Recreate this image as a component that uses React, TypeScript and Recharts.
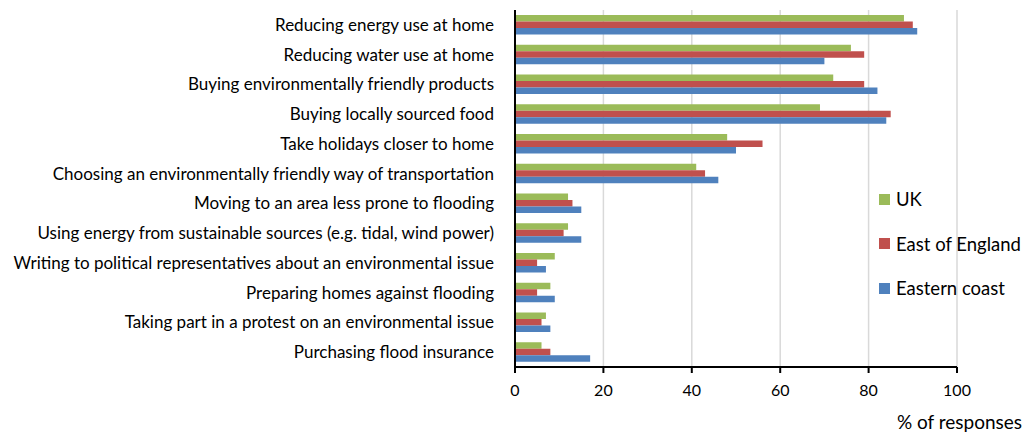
import { BarChart, Bar, XAxis, YAxis, CartesianGrid } from "recharts";

const CATEGORIES = [
  "Reducing energy use at home",
  "Reducing water use at home",
  "Buying environmentally friendly products",
  "Buying locally sourced food",
  "Take holidays closer to home",
  "Choosing an environmentally friendly way of transportation",
  "Moving to an area less prone to flooding",
  "Using energy from sustainable sources (e.g. tidal, wind power)",
  "Writing to political representatives about an environmental issue",
  "Preparing homes against flooding ",
  "Taking part in a protest on an environmental issue",
  "Purchasing flood insurance",
];

const UK = [88, 76, 72, 69, 48, 41, 12, 12, 9, 8, 7, 6];
const EAST_OF_ENGLAND = [90, 79, 79, 85, 56, 43, 13, 11, 5, 5, 6, 8];
const EASTERN_COAST = [91, 70, 82, 84, 50, 46, 15, 15, 7, 9, 8, 17];

const X_TICKS = [0, 20, 40, 60, 80, 100];

const SERIES = [
  { key: "uk", name: "UK", color: "#9BBB59" },
  { key: "east", name: "East of England", color: "#C0504D" },
  { key: "coast", name: "Eastern coast", color: "#4F81BD" },
];

const data = CATEGORIES.map((name, i) => ({
  name,
  uk: UK[i],
  east: EAST_OF_ENGLAND[i],
  coast: EASTERN_COAST[i],
}));

const FONT = "Lato, 'Open Sans', sans-serif";

// Plain HTML legend laid over the chart, so recharts doesn't reserve room for it.
function SideLegend() {
  return (
    <div
      style={{
        position: "absolute",
        left: 879,
        top: 177,
        fontFamily: FONT,
        fontSize: 18.5,
        color: "#000",
      }}
    >
      {SERIES.map((s) => (
        <div key={s.key} style={{ display: "flex", alignItems: "center", height: 44.5 }}>
          <span style={{ width: 11, height: 11, background: s.color, marginRight: 6 }} />
          {s.name}
        </div>
      ))}
    </div>
  );
}

export default function App() {
  return (
    <div style={{ position: "relative", width: 1027, height: 435, background: "#fff" }}>
      <style>{`body{margin:0}`}</style>
      <BarChart
        width={1027}
        height={435}
        data={data}
        layout="vertical"
        margin={{ top: 10, right: 70, bottom: 0, left: 0 }}
        barGap={0}
        barSize={6.5}
      >
        <CartesianGrid horizontal={false} stroke="#d9d9d9" strokeWidth={1.5} />
        <XAxis
          type="number"
          domain={[0, 100]}
          ticks={X_TICKS}
          height={68}
          axisLine={{ stroke: "#000", strokeWidth: 2 }}
          tickLine={{ stroke: "#000", strokeWidth: 2 }}
          tickSize={6}
          tickMargin={12}
          tick={{ fill: "#000", fontSize: 16, fontFamily: FONT }}
          label={{
            value: "% of responses",
            position: "insideBottomRight",
            offset: 6,
            dx: 71,
            fill: "#000",
            fontSize: 19,
            fontFamily: FONT,
          }}
        />
        <YAxis
          type="category"
          dataKey="name"
          width={515}
          interval={0}
          axisLine={{ stroke: "#000", strokeWidth: 2 }}
          tickLine={false}
          tickSize={0}
          tickMargin={21}
          tick={{ fill: "#000", fontSize: 17, fontFamily: FONT }}
        />
        {SERIES.map((s) => (
          <Bar
            key={s.key}
            dataKey={s.key}
            name={s.name}
            fill={s.color}
            isAnimationActive={false}
          />
        ))}
      </BarChart>
      <SideLegend />
    </div>
  );
}
